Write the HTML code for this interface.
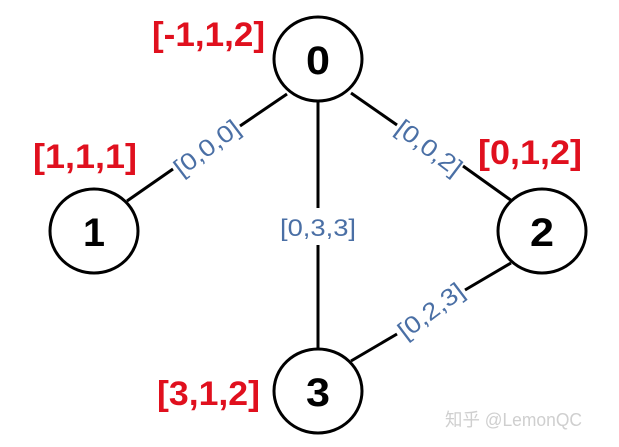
<!DOCTYPE html>
<html><head><meta charset="utf-8"><style>html,body{margin:0;padding:0;background:#fff}svg{display:block}</style></head>
<body>
<svg width="619" height="447" viewBox="0 0 619 447" xmlns="http://www.w3.org/2000/svg">
<g stroke="#000" stroke-width="3" fill="none">
<line x1="287" y1="94" x2="240" y2="126"/>
<line x1="173" y1="169" x2="127" y2="201"/>
<line x1="351" y1="93" x2="397" y2="125"/>
<line x1="463" y1="166" x2="512" y2="201"/>
<line x1="318" y1="101" x2="318" y2="208"/>
<line x1="318" y1="245" x2="318" y2="349"/>
<line x1="511" y1="263" x2="465" y2="290"/>
<line x1="397" y1="334" x2="351" y2="361"/>
<ellipse cx="318" cy="59" rx="44" ry="42" fill="#fff"/>
<ellipse cx="94" cy="231" rx="44" ry="42" fill="#fff"/>
<ellipse cx="542" cy="231" rx="44" ry="42" fill="#fff"/>
<ellipse cx="318" cy="391" rx="44" ry="42" fill="#fff"/>
</g>
<g font-family="Liberation Sans, sans-serif" font-weight="bold" font-size="40" text-anchor="middle" fill="#000">
<text x="318" y="74" textLength="24" lengthAdjust="spacingAndGlyphs">0</text>
<text x="94" y="246" textLength="22" lengthAdjust="spacingAndGlyphs">1</text>
<text x="542" y="246" textLength="24" lengthAdjust="spacingAndGlyphs">2</text>
<text x="318" y="406" textLength="24" lengthAdjust="spacingAndGlyphs">3</text>
</g>
<g font-family="Liberation Sans, sans-serif" font-weight="bold" font-size="34" fill="#e0101e">
<text x="152" y="46" textLength="113" lengthAdjust="spacingAndGlyphs">[-1,1,2]</text>
<text x="33" y="168" textLength="104" lengthAdjust="spacingAndGlyphs">[1,1,1]</text>
<text x="478" y="164" textLength="104" lengthAdjust="spacingAndGlyphs">[0,1,2]</text>
<text x="157" y="405" textLength="103" lengthAdjust="spacingAndGlyphs">[3,1,2]</text>
</g>
<g font-family="Liberation Sans, sans-serif" font-size="24" fill="#4a6fa5" text-anchor="middle">
<text x="318" y="236" textLength="76" lengthAdjust="spacingAndGlyphs">[0,3,3]</text>
<text transform="translate(207,148) rotate(-37)" y="8" textLength="76" lengthAdjust="spacingAndGlyphs">[0,0,0]</text>
<text transform="translate(429,148) rotate(37)" y="8" textLength="76" lengthAdjust="spacingAndGlyphs">[0,0,2]</text>
<text transform="translate(431,311) rotate(-37)" y="8" textLength="76" lengthAdjust="spacingAndGlyphs">[0,2,3]</text>
</g>
<text x="445" y="426" font-family="Liberation Sans, 'Noto Sans CJK SC', sans-serif" font-size="18" fill="#cfcfcf" textLength="137" lengthAdjust="spacingAndGlyphs">知乎 @LemonQC</text>
</svg>
</body></html>
